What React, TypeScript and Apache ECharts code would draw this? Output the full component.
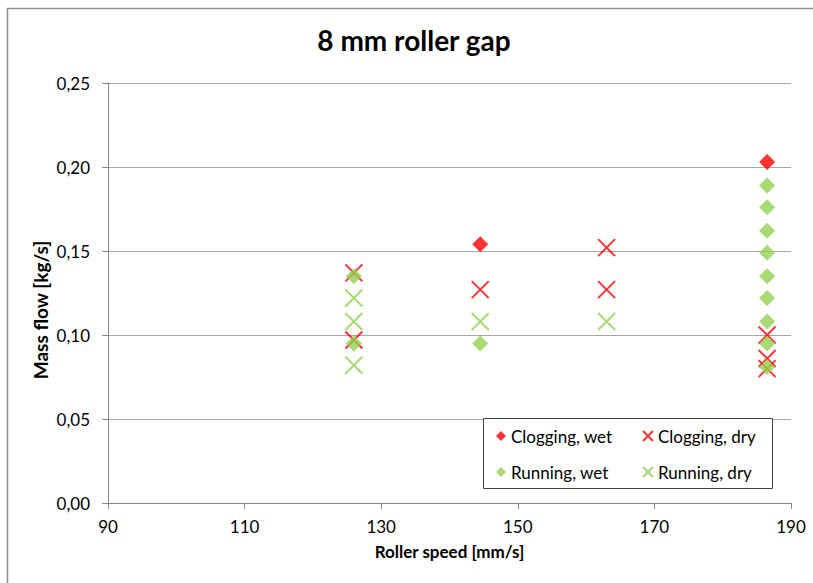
import React, { useEffect, useRef } from "react";
import * as echarts from "echarts";

const TITLE = "8 mm roller gap";
const X_NAME = "Roller speed [mm/s]";
const Y_NAME = "Mass flow [kg/s]";
const SERIES_NAMES = ["Clogging, wet", "Clogging, dry", "Running, wet", "Running, dry"];

// [roller speed, mass flow]
const cloggingWet: number[][] = [
  [144.5, 0.154],
  [186.5, 0.203],
];
const cloggingDry: number[][] = [
  [126, 0.137],
  [126, 0.097],
  [144.5, 0.127],
  [163, 0.152],
  [163, 0.127],
  [186.5, 0.1],
  [186.5, 0.086],
  [186.5, 0.08],
];
const runningWet: number[][] = [
  [126, 0.135],
  [126, 0.095],
  [144.5, 0.095],
  [186.5, 0.189],
  [186.5, 0.176],
  [186.5, 0.162],
  [186.5, 0.149],
  [186.5, 0.135],
  [186.5, 0.122],
  [186.5, 0.108],
  [186.5, 0.095],
  [186.5, 0.081],
];
const runningDry: number[][] = [
  [126, 0.122],
  [126, 0.108],
  [126, 0.082],
  [144.5, 0.108],
  [163, 0.108],
];

const RED = "#ff0000";
const GREEN = "#92d050";
const FONT = "Lato, 'Liberation Sans', sans-serif";
const XPATH = "path://M0,0L10,10M10,0L0,10";

export default function App() {
  const ref = useRef<HTMLDivElement>(null);
  useEffect(() => {
    if (!ref.current) return;
    const chart = echarts.init(ref.current, undefined, { renderer: "svg" });
    const xSym = (color: string) => ({
      symbol: XPATH,
      symbolSize: 17,
      itemStyle: { color: "transparent", borderColor: color, borderWidth: 2 },
    });
    const legendBase = {
      padding: 0,
      itemWidth: 10,
      itemHeight: 10,
      textStyle: { fontFamily: FONT, fontSize: 17, color: "#000", lineHeight: 20 },
      selectedMode: false,
    };
    chart.setOption({
      animation: false,
      backgroundColor: "#fff",
      title: {
        text: TITLE,
        left: 414,
        textAlign: "center",
        top: 26,
        padding: 0,
        textStyle: { fontFamily: FONT, fontSize: 28, fontWeight: "bold", color: "#000" },
      },
      grid: { left: 108, top: 83, width: 683, height: 420 },
      xAxis: {
        type: "value",
        min: 90,
        max: 190,
        interval: 20,
        name: X_NAME,
        nameLocation: "middle",
        nameGap: 40,
        nameTextStyle: { fontFamily: FONT, fontSize: 17, fontWeight: "bold", color: "#000" },
        axisLine: { show: true, lineStyle: { color: "#868686" } },
        axisTick: { show: true, length: 6, lineStyle: { color: "#868686" } },
        axisLabel: { margin: 15, fontFamily: FONT, fontSize: 17, color: "#000" },
        splitLine: { show: false },
      },
      yAxis: {
        type: "value",
        min: 0,
        max: 0.25,
        interval: 0.05,
        axisLine: { show: true, lineStyle: { color: "#868686" } },
        axisTick: { show: true, length: 6, lineStyle: { color: "#868686" } },
        axisLabel: {
          margin: 18,
          fontFamily: FONT,
          fontSize: 17,
          color: "#000",
          formatter: (v: number) => v.toFixed(2).replace(".", ","),
        },
        splitLine: { show: true, lineStyle: { color: "#a6a6a6" } },
      },
      legend: [
        { ...legendBase, data: [SERIES_NAMES[0]], left: 496, top: 426 },
        { ...legendBase, data: [SERIES_NAMES[1]], left: 642, top: 426 },
        { ...legendBase, data: [SERIES_NAMES[2]], left: 496, top: 462 },
        { ...legendBase, data: [SERIES_NAMES[3]], left: 642, top: 462 },
      ],
      graphic: [
        {
          type: "rect",
          z: 3,
          shape: { x: 483.5, y: 418.5, width: 289, height: 70 },
          style: { fill: "#fff", stroke: "#404040", lineWidth: 1 },
        },
        {
          type: "rect",
          z: 0,
          silent: true,
          shape: { x: 7.5, y: 8.5, width: 900, height: 700 },
          style: { fill: "none", stroke: "#8c8c8c", lineWidth: 1.5 },
        },
        {
          type: "text",
          x: 40,
          y: 310,
          rotation: Math.PI / 2,
          style: {
            text: Y_NAME,
            fontFamily: FONT,
            fontSize: 19,
            fontWeight: "bold",
            fill: "#000",
            align: "center",
            verticalAlign: "middle",
          },
        },
      ],
      series: [
        {
          name: SERIES_NAMES[0],
          type: "scatter",
          data: cloggingWet,
          symbol: "diamond",
          symbolSize: 16,
          itemStyle: { color: RED },
        },
        { name: SERIES_NAMES[1], type: "scatter", data: cloggingDry, ...xSym(RED) },
        {
          name: SERIES_NAMES[2],
          type: "scatter",
          data: runningWet,
          symbol: "diamond",
          symbolSize: 16,
          itemStyle: { color: GREEN },
        },
        { name: SERIES_NAMES[3], type: "scatter", data: runningDry, ...xSym(GREEN) },
      ],
    });
    return () => chart.dispose();
  }, []);
  return (
    <div
      ref={ref}
      style={{ position: "absolute", left: 0, top: 0, width: 813, height: 583 }}
    />
  );
}
